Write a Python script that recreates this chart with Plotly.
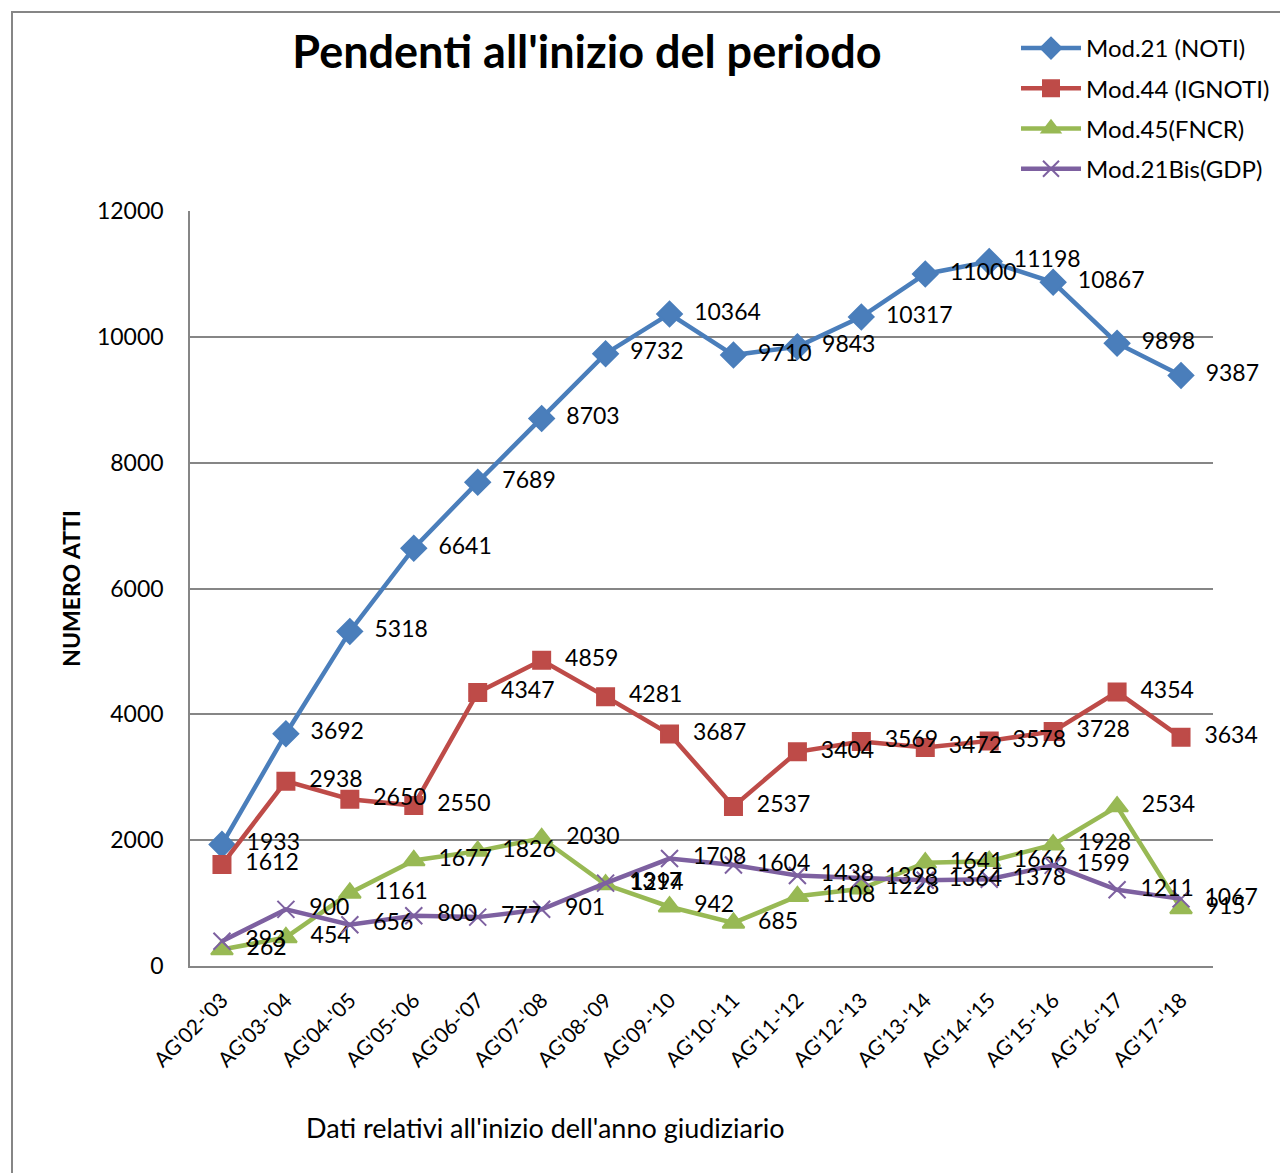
import plotly.graph_objects as go

categories = ["AG'02-'03", "AG'03-'04", "AG'04-'05", "AG'05-'06", "AG'06-'07", "AG'07-'08",
              "AG'08-'09", "AG'09-'10", "AG'10-'11", "AG'11-'12", "AG'12-'13", "AG'13-'14",
              "AG'14-'15", "AG'15-'16", "AG'16-'17", "AG'17-'18"]
mod21 = [1933, 3692, 5318, 6641, 7689, 8703, 9732, 10364, 9710, 9843, 10317, 11000, 11198, 10867, 9898, 9387]
mod44 = [1612, 2938, 2650, 2550, 4347, 4859, 4281, 3687, 2537, 3404, 3569, 3472, 3578, 3728, 4354, 3634]
mod45 = [262, 454, 1161, 1677, 1826, 2030, 1294, 942, 685, 1108, 1228, 1641, 1666, 1928, 2534, 915]
mod21bis = [393, 900, 656, 800, 777, 901, 1317, 1708, 1604, 1438, 1398, 1364, 1378, 1599, 1211, 1067]
y_ticks = [0, 2000, 4000, 6000, 8000, 10000, 12000]

series = [
    ("Mod.21 (NOTI)", mod21, "#4A7EBB", "diamond", 19),
    ("Mod.44 (IGNOTI)", mod44, "#BE4B48", "square", 17),
    ("Mod.45(FNCR)", mod45, "#98B954", "triangle-up", 19),
    ("Mod.21Bis(GDP)", mod21bis, "#7D60A0", "x-thin", 17),
]

FONT = "Lato, Calibri, sans-serif"
OFF = 8  # page body margin
fig = go.Figure()
for i, (name, vals, col, sym, sz) in enumerate(series):
    fig.add_trace(go.Scatter(
        x=list(range(len(categories))), y=vals, name=name, mode="lines+markers+text",
        line=dict(color=col, width=4.5),
        marker=dict(symbol=sym, size=sz, color=col, line=dict(color=col, width=2)),
        text=[f"  {v}" for v in vals], textposition="middle right",
        textfont=dict(family=FONT, size=23, color="black"),
        legendgroup=str(i), cliponaxis=False,
    ))

W, H = 1280, 1165
L, R, T, B = 190 - OFF, 75, 211 - OFF, 1173 - 966
pw, ph = W - L - R, H - T - B


def px(x):
    return (x - OFF - L) / pw


def py(y):
    return (966 - y) / ph


fig.update_layout(
    width=W, height=H, paper_bgcolor="white", plot_bgcolor="white",
    margin=dict(l=L, r=R, t=T, b=B, autoexpand=False),
    font=dict(family=FONT, size=22, color="black"),
    title=dict(text="<b>Pendenti all'inizio del periodo</b>", x=(587 - OFF) / W, xanchor="center",
               y=1 - (52 - OFF) / H, yanchor="middle", font=dict(family=FONT, size=45, color="black")),
    showlegend=True,
    legend=dict(x=px(1016), y=py(26), xanchor="left", yanchor="top",
                font=dict(family=FONT, size=24, color="black"), bgcolor="rgba(0,0,0,0)",
                itemwidth=60, tracegroupgap=6, traceorder="grouped"),
    xaxis=dict(range=[-0.5, 15.5], tickmode="array", tickvals=list(range(len(categories))),
               ticktext=categories, tickangle=-45, showgrid=False, showline=True,
               linecolor="#868686", linewidth=1.5, ticks="", zeroline=False, ticklabelstandoff=12,
               tickfont=dict(family=FONT, size=21, color="black")),
    yaxis=dict(range=[0, 12000], tickmode="array", tickvals=y_ticks,
               ticktext=[str(v) for v in y_ticks], showgrid=True, gridcolor="#868686",
               gridwidth=1.5, showline=True, linecolor="#868686", linewidth=1.5,
               ticks="", zeroline=False, ticklabelstandoff=20,
               tickfont=dict(family=FONT, size=23, color="black"),
               title=dict(text="<b>NUMERO ATTI</b>", font=dict(family=FONT, size=23, color="black"),
                          standoff=10)),
)

fig.add_annotation(text="Dati relativi all'inizio dell'anno giudiziario", xref="paper", yref="paper",
                   x=px(545), y=py(1127), xanchor="center", yanchor="middle",
                   showarrow=False, font=dict(family=FONT, size=27, color="black"))

fig.add_shape(type="rect", xref="paper", yref="paper",
              x0=px(12), x1=px(1320), y0=py(1200), y1=py(12),
              line=dict(color="#868686", width=2), fillcolor="rgba(0,0,0,0)", layer="below")

fig.write_html("out.html")
